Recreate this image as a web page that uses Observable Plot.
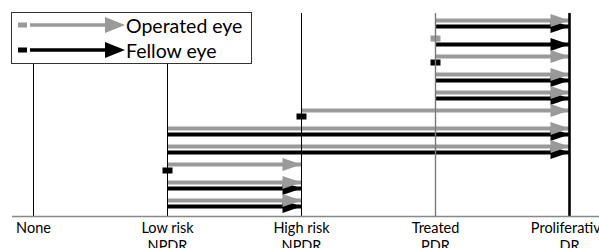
<!DOCTYPE html>
<html><head><meta charset="utf-8">
<script src="https://cdn.jsdelivr.net/npm/d3@7"></script>
<script src="https://cdn.jsdelivr.net/npm/@observablehq/plot@0.6"></script>
<style>
body{margin:0;background:#fff;}
#wrap{position:relative;width:599px;height:248px;overflow:hidden;font-family:Lato,"Noto Sans",sans-serif;}
#legend{position:absolute;left:11px;top:12px;}
</style></head><body><div id="wrap"></div>
<script>
// ---- data ----
const stages = ["None", "Low risk NPDR", "High risk NPDR", "Treated PDR", "Proliferative DR"];
const stageLabels = ["None", "Low risk\nNPDR", "High risk\nNPDR", "Treated\nPDR", "Proliferative\nDR"];
const seriesNames = ["Operated eye", "Fellow eye"];
const patients = [1, 2, 3, 4, 5, 6, 7, 8, 9, 10, 11];
const stageBefore = ["Treated PDR", "Treated PDR", "Treated PDR", "Treated PDR", "Treated PDR", "High risk NPDR",
  "Low risk NPDR", "Low risk NPDR", "Low risk NPDR", "Low risk NPDR", "Low risk NPDR"];
const operatedAfter = ["Proliferative DR", "Treated PDR", "Proliferative DR", "Proliferative DR", "Proliferative DR", "Proliferative DR",
  "Proliferative DR", "Proliferative DR", "High risk NPDR", "High risk NPDR", "High risk NPDR"];
const fellowAfter = ["Proliferative DR", "Proliferative DR", "Treated PDR", "Proliferative DR", "Proliferative DR", "High risk NPDR",
  "Proliferative DR", "Proliferative DR", "Low risk NPDR", "High risk NPDR", "High risk NPDR"];

// ---- styles ----
const colors = ["#9a9a9a", "#000000"];
const FONT = 'Lato, "Noto Sans", sans-serif';

const rows = [];
patients.forEach((p, i) => {
  rows.push({patient: p, eye: seriesNames[0], from: stageBefore[i], to: operatedAfter[i]});
  rows.push({patient: p, eye: seriesNames[1], from: stageBefore[i], to: fellowAfter[i]});
});
const moves = rows.filter(d => d.from !== d.to);
const stays = rows.filter(d => d.from === d.to);
const byEye = (arr, e) => arr.filter(d => d.eye === e);

const head = {draw(ctx) { ctx.moveTo(0, 0); ctx.lineTo(-19, -6.5); ctx.lineTo(-19, 6.5); ctx.closePath(); }};
const block = {draw(ctx) { ctx.rect(-5, -3, 10, 6); }};
const off = e => e === seriesNames[1] ? 6 : 0;

const marks = [];
for (const e of [seriesNames[1], seriesNames[0]]) {
  marks.push(Plot.ruleY(byEye(moves, e), {y: "patient", x1: "from", x2: "to", stroke: "eye", strokeWidth: 4, dy: off(e)}));
  marks.push(Plot.dot(byEye(moves, e), {x: "to", y: "patient", symbol: head, fill: "eye", stroke: null, dy: off(e)}));
  marks.push(Plot.dot(byEye(stays, e), {x: "from", y: "patient", symbol: block, fill: "eye", stroke: null, dy: off(e)}));
}

const yDomain = [0.61, 11.89];
const chart = Plot.plot({
  width: 599, height: 248,
  marginLeft: 12, marginRight: 0, marginTop: 13, marginBottom: 32,
  style: {fontFamily: FONT, background: "white"},
  x: {type: "point", domain: stages, padding: 0, insetLeft: 20, insetRight: 30, axis: null},
  y: {type: "linear", domain: yDomain, reverse: true, axis: null},
  color: {domain: seriesNames, range: colors},
  marks: [
    ...marks,
    Plot.ruleX(stages, {x: d => d,
      stroke: d => d === "Treated PDR" ? "#7a7a7a" : "#000",
      strokeWidth: d => d === "Proliferative DR" ? 2.6 : d === "Treated PDR" ? 1.4 : 1}),
    Plot.ruleY([yDomain[1]], {stroke: "#888", strokeWidth: 1.5}),
    Plot.text(stages, {x: d => d, frameAnchor: "bottom", text: (d, i) => stageLabels[i],
      lineAnchor: "top", dy: 4, fontSize: 14.5, lineHeight: 1.25, fill: "#000"})
  ]
});
const wrap = document.getElementById("wrap");
wrap.appendChild(chart);

// ---- legend ----
const lg = d3.select(wrap).append("svg").attr("id", "legend").attr("width", 242).attr("height", 53);
lg.append("rect").attr("x", 0.5).attr("y", 0.5).attr("width", 240).attr("height", 51)
  .attr("fill", "white").attr("stroke", "#333").attr("stroke-width", 1);
seriesNames.forEach((name, i) => {
  const cy = 13 + i * 25;
  const g = lg.append("g").attr("transform", `translate(0,${cy})`);
  g.append("rect").attr("x", 7).attr("y", -2.5).attr("width", 9).attr("height", 5).attr("fill", colors[i]);
  g.append("line").attr("x1", 19).attr("x2", 100).attr("y1", 0).attr("y2", 0).attr("stroke", colors[i]).attr("stroke-width", 3.5);
  g.append("path").attr("d", "M114,0L94,-8L94,8Z").attr("fill", colors[i]);
  g.append("text").attr("x", 115).attr("y", 8).attr("font-family", FONT).attr("font-size", 19.5).attr("fill", "#000").text(name);
});
</script></body></html>
